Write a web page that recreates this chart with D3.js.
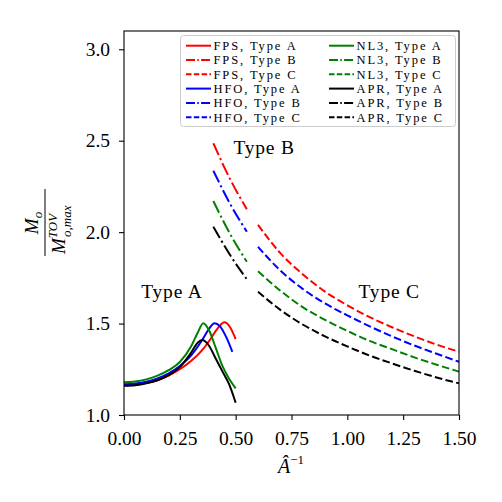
<!DOCTYPE html>
<html lang="en">
<head>
<meta charset="UTF-8">
<title>M_o / M_TOV vs A^-1</title>
<script src="https://cdn.jsdelivr.net/npm/d3@7"></script>
<style>
  body { margin: 0; background: #fff; }
  text { font-family: "Liberation Serif", serif; }
</style>
</head>
<body>
<script>
// Type A (solid) curves
const fpsAx = [0, 0.05, 0.1, 0.15, 0.2, 0.25, 0.3, 0.35, 0.39, 0.42, 0.45, 0.475, 0.5];
const fpsAy = [1.163, 1.166, 1.175, 1.19, 1.215, 1.25, 1.295, 1.355, 1.42, 1.475, 1.507, 1.48, 1.415];
const hfoAx = [0, 0.05, 0.1, 0.15, 0.2, 0.25, 0.3, 0.35, 0.38, 0.405, 0.43, 0.46, 0.485];
const hfoAy = [1.168, 1.172, 1.182, 1.2, 1.228, 1.268, 1.325, 1.41, 1.47, 1.502, 1.485, 1.42, 1.345];
const nl3Ax = [0, 0.05, 0.1, 0.15, 0.2, 0.25, 0.3, 0.33, 0.355, 0.38, 0.41, 0.44, 0.47, 0.5];
const nl3Ay = [1.179, 1.183, 1.195, 1.215, 1.245, 1.29, 1.375, 1.45, 1.502, 1.465, 1.37, 1.27, 1.2, 1.146];
const aprAx = [0, 0.05, 0.1, 0.15, 0.2, 0.25, 0.3, 0.33, 0.35, 0.38, 0.41, 0.44, 0.47, 0.5];
const aprAy = [1.16, 1.163, 1.173, 1.19, 1.218, 1.262, 1.34, 1.395, 1.41, 1.38, 1.31, 1.24, 1.17, 1.067];

// Type B (dash-dot) curves
const typeBx = [0.4, 0.475, 0.55];
const fpsBy = [2.486, 2.29, 2.125];
const hfoBy = [2.336, 2.155, 2.002];
const nl3By = [2.17, 1.99, 1.838];
const aprBy = [2.03, 1.875, 1.742];

// Type C (dashed) curves
const typeCx = [0.6, 0.7, 0.8, 0.9, 1.0, 1.1, 1.2, 1.3, 1.4, 1.5];
const fpsCy = [2.04, 1.885, 1.77, 1.675, 1.6, 1.535, 1.48, 1.43, 1.385, 1.346];
const hfoCy = [1.92, 1.79, 1.69, 1.61, 1.545, 1.485, 1.43, 1.38, 1.335, 1.291];
const nl3Cy = [1.786, 1.68, 1.59, 1.52, 1.46, 1.405, 1.36, 1.315, 1.275, 1.237];
const aprCy = [1.674, 1.575, 1.495, 1.43, 1.375, 1.325, 1.282, 1.242, 1.205, 1.173];

const xTicks = [0, 0.25, 0.5, 0.75, 1.0, 1.25, 1.5];
const yTicks = [1.0, 1.5, 2.0, 2.5, 3.0];

const legendNames = ["FPS, Type A", "FPS, Type B", "FPS, Type C",
                     "HFO, Type A", "HFO, Type B", "HFO, Type C",
                     "NL3, Type A", "NL3, Type B", "NL3, Type C",
                     "APR, Type A", "APR, Type B", "APR, Type C"];

const colors = { FPS: "#ff0000", HFO: "#0000ff", NL3: "#008000", APR: "#000000" };
const dashes = { A: null, B: "13,3.3,2.1,3.3", C: "7.7,3.3" };

const series = [
  { eos: "FPS", type: "A", x: fpsAx, y: fpsAy },
  { eos: "HFO", type: "A", x: hfoAx, y: hfoAy },
  { eos: "NL3", type: "A", x: nl3Ax, y: nl3Ay },
  { eos: "APR", type: "A", x: aprAx, y: aprAy },
  { eos: "FPS", type: "B", x: typeBx, y: fpsBy },
  { eos: "HFO", type: "B", x: typeBx, y: hfoBy },
  { eos: "NL3", type: "B", x: typeBx, y: nl3By },
  { eos: "APR", type: "B", x: typeBx, y: aprBy },
  { eos: "FPS", type: "C", x: typeCx, y: fpsCy },
  { eos: "HFO", type: "C", x: typeCx, y: hfoCy },
  { eos: "NL3", type: "C", x: typeCx, y: nl3Cy },
  { eos: "APR", type: "C", x: typeCx, y: aprCy }
];

const w = 502, h = 502;
const margin = { left: 124, right: 43, top: 31, bottom: 87 };

const svg = d3.select("body").append("svg")
  .attr("width", w)
  .attr("height", h);

const xScale = d3.scaleLinear()
  .domain([0, 1.5])
  .range([margin.left, w - margin.right]);

const yScale = d3.scaleLinear()
  .domain([1.0, 3.1])
  .range([h - margin.bottom, margin.top]);

// curves
const line = d3.line()
  .x(d => xScale(d[0]))
  .y(d => yScale(d[1]))
  .curve(d3.curveMonotoneX);

svg.append("g").selectAll("path")
  .data(series)
  .enter()
  .append("path")
  .attr("d", s => line(s.x.map((v, i) => [v, s.y[i]])))
  .attr("fill", "none")
  .attr("stroke", s => colors[s.eos])
  .attr("stroke-width", 2)
  .attr("stroke-dasharray", s => dashes[s.type]);

// axes
const xAxis = svg.append("g")
  .attr("transform", `translate(0,${h - margin.bottom})`)
  .call(d3.axisBottom(xScale).tickValues(xTicks).tickFormat(d3.format(".2f"))
    .tickSize(5).tickPadding(11.5).tickSizeOuter(0));

const yAxis = svg.append("g")
  .attr("transform", `translate(${margin.left},0)`)
  .call(d3.axisLeft(yScale).tickValues(yTicks).tickFormat(d3.format(".1f"))
    .tickSize(5).tickPadding(9).tickSizeOuter(0));

[xAxis, yAxis].forEach(a => {
  a.selectAll("text").attr("font-family", "Liberation Serif").attr("font-size", 19.5).attr("fill", "#000");
  a.selectAll("line").attr("stroke", "#000").attr("stroke-width", 1.1);
  a.select(".domain").remove();
});

// frame
svg.append("rect")
  .attr("x", margin.left)
  .attr("y", margin.top)
  .attr("width", w - margin.left - margin.right)
  .attr("height", h - margin.top - margin.bottom)
  .attr("fill", "none")
  .attr("stroke", "#000")
  .attr("stroke-width", 1.1);

// region labels
const regionLabels = [
  { text: "Type A", x: 0.077, y: 1.64 },
  { text: "Type B", x: 0.49, y: 2.43 },
  { text: "Type C", x: 1.05, y: 1.64 }
];
svg.selectAll(".region")
  .data(regionLabels)
  .enter()
  .append("text")
  .attr("class", "region")
  .attr("x", d => xScale(d.x))
  .attr("y", d => yScale(d.y))
  .attr("font-size", 19.5)
  .attr("letter-spacing", 0.8)
  .text(d => d.text);

// x label: A-hat^-1
const xl = svg.append("text")
  .attr("x", 291)
  .attr("y", 473)
  .attr("text-anchor", "middle")
  .attr("font-size", 20);
xl.append("tspan").attr("font-style", "italic").text("\u00C2");
xl.append("tspan").attr("font-size", 13).attr("dy", -9).text("\u22121");

// y label: fraction M_o / M^TOV_o,max
const yl = svg.append("g").attr("transform", "translate(45,223) rotate(-90)");
yl.append("line")
  .attr("x1", -33).attr("x2", 34)
  .attr("y1", 0).attr("y2", 0)
  .attr("stroke", "#000").attr("stroke-width", 1);
const num = yl.append("text").attr("x", 0).attr("y", -7).attr("text-anchor", "middle").attr("font-size", 19);
num.append("tspan").attr("font-style", "italic").text("M");
num.append("tspan").attr("font-style", "italic").attr("font-size", 13).attr("dy", 4).text("o");
const den = yl.append("text").attr("x", -31).attr("y", 20).attr("font-size", 19);
den.append("tspan").attr("font-style", "italic").text("M");
den.append("tspan").attr("font-style", "italic").attr("font-size", 13).attr("dy", -8).text("TOV");
den.append("tspan").attr("font-style", "italic").attr("font-size", 13).attr("x", -14).attr("dy", 14).text("o,max");

// legend
const legend = svg.append("g");
legend.append("rect")
  .attr("x", 180.5).attr("y", 35.5)
  .attr("width", 275).attr("height", 91)
  .attr("rx", 3)
  .attr("fill", "#fff").attr("fill-opacity", 0.8)
  .attr("stroke", "#cccccc").attr("stroke-width", 1);

const legendItems = series.slice().sort((a, b) =>
  legendNames.indexOf(a.eos + ", Type " + a.type) - legendNames.indexOf(b.eos + ", Type " + b.type));

const items = legend.selectAll(".item")
  .data(legendItems)
  .enter()
  .append("g")
  .attr("class", "item")
  .attr("transform", (d, i) => `translate(${i < 6 ? 186 : 329},${45.7 + (i % 6) * 14.3})`);

items.append("line")
  .attr("x1", 0).attr("x2", 25)
  .attr("stroke", d => colors[d.eos])
  .attr("stroke-width", 2)
  .attr("stroke-dasharray", d => d.type === "B" ? "9,2.3,1.5,2.3" : d.type === "C" ? "5.5,2.3" : null);

items.append("text")
  .attr("x", 27.5)
  .attr("y", 4.3)
  .attr("font-size", 12.5)
  .attr("letter-spacing", 1.9)
  .text(d => d.eos + ", Type " + d.type);
</script>
</body>
</html>
